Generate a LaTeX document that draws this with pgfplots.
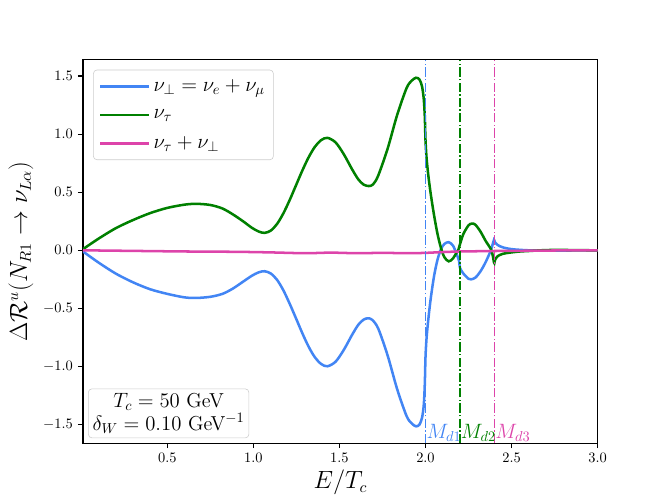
\documentclass[border=0pt]{standalone}
\usepackage{pgfplots}
\pgfplotsset{compat=1.18}
\definecolor{cblue}{RGB}{66,133,244}
\definecolor{cgreen}{RGB}{0,128,0}
\definecolor{cpink}{RGB}{221,68,170}
\begin{document}
\begin{tikzpicture}
\begin{axis}[
  name=ax,
  scale only axis,
  width=357.12pt, height=266.11pt,
  xmin=0.01, xmax=3, ymin=-1.66, ymax=1.64,
  xtick={0.5,1.0,1.5,2.0,2.5,3.0},
  ytick={-1.5,-1.0,-0.5,0.0,0.5,1.0,1.5},
  xticklabel style={/pgf/number format/.cd,fixed,fixed zerofill,precision=1},
  yticklabel style={/pgf/number format/.cd,fixed,fixed zerofill,precision=1},
  tick label style={font=\fontsize{10}{12}\selectfont},
  tick align=outside, major tick length=3.5pt,
  tick style={black, line width=0.8pt},
  xtick pos=bottom, ytick pos=left,
  axis line style={line width=0.8pt},
  xlabel={$E/T_c$}, ylabel={$\Delta\mathcal{R}^u(N_{R1}\rightarrow\nu_{L\alpha})$},
  label style={font=\fontsize{16}{19}\selectfont},
  xlabel style={yshift=2pt},
  legend cell align=left,
  legend style={at={(0.0196,0.974)}, anchor=north west, draw=black!20, rounded corners=2.5pt,
    fill=white, fill opacity=0.8, text opacity=1, font=\fontsize{14}{16}\selectfont,
    inner xsep=4pt, inner ysep=4.5pt, row sep=7pt},
  legend image code/.code={\draw[#1] (0pt,0pt) -- (28pt,0pt); \path (0pt,0pt) -- (34pt,0pt);},
]
\addplot[cblue, line width=1.75pt, smooth, tension=0.5] coordinates {
(0.01,-0.01) (0.1,-0.105) (0.2,-0.20) (0.3,-0.275) (0.4,-0.335) (0.5,-0.375) (0.6,-0.405) (0.67,-0.41)
(0.75,-0.40) (0.82,-0.375) (0.88,-0.33) (0.94,-0.27) (0.99,-0.22) (1.03,-0.19) (1.065,-0.18)
(1.1015,-0.20) (1.138,-0.255) (1.1745,-0.345) (1.211,-0.46) (1.2475,-0.585) (1.284,-0.712)
(1.3205,-0.828) (1.357,-0.92) (1.3935,-0.978) (1.43,-0.998)
(1.478,-0.958) (1.526,-0.855) (1.574,-0.726) (1.61,-0.64) (1.64,-0.597) (1.665,-0.585) (1.69,-0.598)
(1.725,-0.672) (1.78,-0.905) (1.835,-1.193) (1.89,-1.426) (1.92,-1.49) (1.945,-1.515)
(1.965,-1.50) (1.98,-1.44) (1.99,-1.33) (1.996,-1.15)
(2.0,-0.92) (2.006,-0.76) (2.016,-0.60) (2.03,-0.42) (2.05,-0.22) (2.07,-0.08) (2.09,0.01)
(2.11,0.055) (2.135,0.07) (2.16,0.04) (2.18,-0.03) (2.195,-0.09) (2.20,-0.15) (2.22,-0.20)
(2.25,-0.245) (2.265,-0.25) (2.29,-0.235) (2.32,-0.18) (2.35,-0.10) (2.38,0.00) (2.39,0.05)
(2.398,0.09) (2.40,0.085) (2.405,0.065) (2.42,0.045) (2.45,0.025) (2.5,0.01) (2.55,0.004)
(2.6,0.0) (2.7,-0.003) (2.8,-0.003) (2.9,0.0) (3.0,0.0)
};
\addlegendentry{$\nu_{\perp}=\nu_e+\nu_\mu$}
\addplot[cgreen, line width=1.75pt, smooth, tension=0.5] coordinates {
(0.01,0.01) (0.1,0.10) (0.2,0.19) (0.3,0.26) (0.4,0.32) (0.5,0.365) (0.6,0.393) (0.67,0.40)
(0.75,0.39) (0.82,0.36) (0.88,0.31) (0.94,0.25) (0.99,0.195) (1.03,0.162) (1.065,0.15)
(1.1015,0.17) (1.138,0.228) (1.1745,0.319) (1.211,0.433) (1.2475,0.559) (1.284,0.685)
(1.3205,0.799) (1.357,0.89) (1.3935,0.948) (1.43,0.968)
(1.478,0.928) (1.526,0.825) (1.574,0.696) (1.61,0.61) (1.64,0.566) (1.67,0.553) (1.695,0.567)
(1.725,0.642) (1.78,0.875) (1.835,1.163) (1.89,1.396) (1.92,1.46) (1.945,1.485)
(1.965,1.47) (1.98,1.41) (1.99,1.30) (1.996,1.15)
(2.0,0.95) (2.006,0.80) (2.016,0.65) (2.03,0.49) (2.05,0.30) (2.07,0.14) (2.09,0.02)
(2.11,-0.06) (2.135,-0.095) (2.16,-0.07) (2.18,-0.02) (2.19,0.0) (2.20,0.05) (2.22,0.14)
(2.25,0.215) (2.27,0.23) (2.29,0.22) (2.32,0.16) (2.35,0.08) (2.38,0.01) (2.39,-0.04)
(2.398,-0.105) (2.40,-0.11) (2.405,-0.08) (2.42,-0.05) (2.45,-0.03) (2.5,-0.018) (2.55,-0.01)
(2.6,-0.006) (2.7,0.002) (2.8,0.003) (2.9,0.001) (3.0,0.0)
};
\addlegendentry{$\nu_\tau$}
\addplot[cpink, line width=1.75pt, smooth, tension=0.5] coordinates {
(0.01,0.0) (0.3,-0.005) (0.6,-0.01) (0.9,-0.013) (1.1,-0.018) (1.3,-0.025) (1.45,-0.02)
(1.6,-0.025) (1.75,-0.022) (1.9,-0.025) (2.0,-0.022) (2.1,-0.015) (2.2,-0.01) (2.3,-0.008)
(2.4,-0.006) (2.5,-0.005) (2.7,-0.002) (3.0,0.0)
};
\addlegendentry{$\nu_\tau+\nu_{\perp}$}
\addplot[cblue, line width=0.9pt, dash pattern=on 6.4pt off 1.6pt on 1pt off 1.6pt, forget plot] coordinates {(2.0,-1.66) (2.0,1.64)};
\addplot[cgreen, line width=0.9pt, dash pattern=on 6.4pt off 1.6pt on 1pt off 1.6pt, forget plot] coordinates {(2.2,-1.66) (2.2,1.64)};
\addplot[cpink, line width=0.9pt, dash pattern=on 6.4pt off 1.6pt on 1pt off 1.6pt, forget plot] coordinates {(2.4,-1.66) (2.4,1.64)};
\node[anchor=base west, text=cblue, inner sep=0.5pt, font=\fontsize{14}{16}\selectfont] at (axis cs:2.0,-1.62) {$M_{d1}$};
\node[anchor=base west, text=cgreen, inner sep=0.5pt, font=\fontsize{14}{16}\selectfont] at (axis cs:2.2,-1.62) {$M_{d2}$};
\node[anchor=base west, text=cpink, inner sep=0.5pt, font=\fontsize{14}{16}\selectfont] at (axis cs:2.4,-1.62) {$M_{d3}$};
\node[anchor=south west, draw=black!20, rounded corners=2.5pt, fill=white, fill opacity=0.8, text opacity=1,
  align=center, font=\fontsize{14}{16}\selectfont, inner sep=3pt]
  at ([shift={(3.5pt,3.5pt)}]rel axis cs:0,0) {$T_c = 50$ GeV\\$\delta_W = 0.10$ GeV$^{-1}$};
\node[anchor=south west, inner sep=0pt, font=\fontsize{10}{12}\selectfont] at ([yshift=3pt]rel axis cs:0,1) {$\times10^{-4}$};
\coordinate (SW) at (rel axis cs:0,0);
\coordinate (NE) at (rel axis cs:1,1);
\end{axis}
\pgfresetboundingbox
\path[use as bounding box] ([shift={(-57.6pt,-38.02pt)}]SW) rectangle ([shift={(46.08pt,41.47pt)}]NE);
\end{tikzpicture}
\end{document}
